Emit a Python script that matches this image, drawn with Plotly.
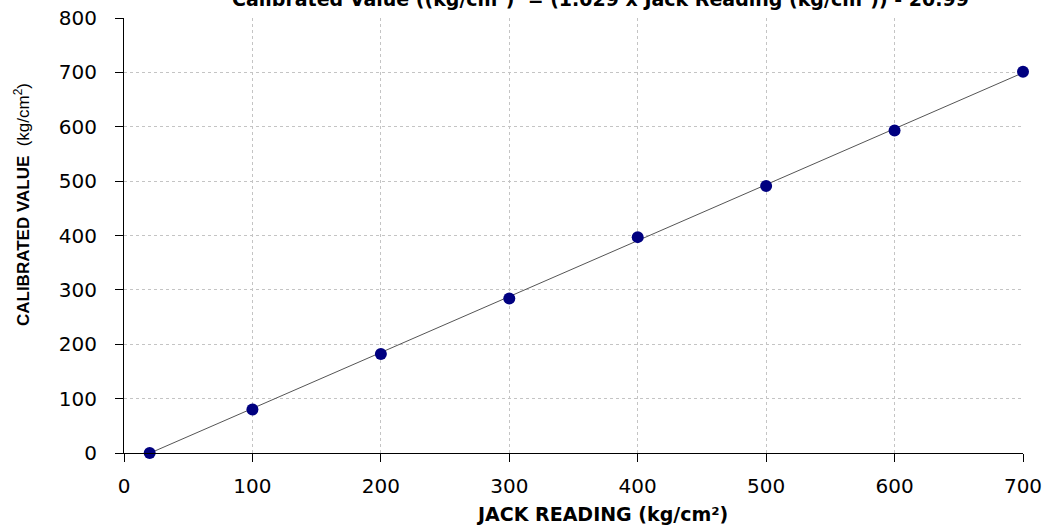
import numpy as np
import plotly.graph_objects as go

jack_reading = [20, 100, 200, 300, 400, 500, 600, 700]
calibrated_value = [0, 80, 182, 284, 397, 491, 593, 701]
x_ticks = [0, 100, 200, 300, 400, 500, 600, 700]
y_ticks = [0, 100, 200, 300, 400, 500, 600, 700, 800]

slope, intercept = 1.029, -20.99
fit_x = [min(jack_reading), max(jack_reading)]
fit_y = [slope * v + intercept for v in fit_x]

fig = go.Figure()
fig.add_trace(go.Scatter(x=fit_x, y=fit_y, mode="lines",
                         line=dict(color="#555555", width=1), hoverinfo="skip",
                         showlegend=False, cliponaxis=False))
fig.add_trace(go.Scatter(x=jack_reading, y=calibrated_value, mode="markers",
                         marker=dict(color="#000080", size=12, symbol="circle"),
                         showlegend=False, cliponaxis=False))

dejavu = "DejaVu Sans, Verdana, sans-serif"
tickfont = dict(family=dejavu, size=20, color="black")
grid = dict(showgrid=True, gridcolor="#c4c4c4", griddash="3px,3px", gridwidth=1)

fig.update_layout(
    width=1047, height=527,
    margin=dict(l=124, r=24, t=18, b=74, autoexpand=False),
    paper_bgcolor="white", plot_bgcolor="white",
    font=dict(family="Liberation Sans, Arial, sans-serif", color="black"),
    xaxis=dict(range=[0, 700], tickvals=x_ticks, tickfont=tickfont,
               showline=True, linecolor="black", linewidth=1,
               ticks="outside", ticklen=8, tickcolor="black",
               ticklabelstandoff=7,
               zeroline=False, **grid),
    yaxis=dict(range=[0, 800], tickvals=y_ticks, tickfont=tickfont,
               showline=True, linecolor="black", linewidth=1,
               ticks="outside", ticklen=8, tickcolor="black",
               ticklabelstandoff=14,
               zeroline=False, **grid),
    annotations=[
        dict(text="<b>Calibrated Value ((kg/cm²)  = (1.029 x Jack Reading (kg/cm²)) - 20.99</b>",
             xref="paper", yref="paper", x=0.5295, y=1, xanchor="center", yanchor="middle",
             yshift=19, showarrow=False,
             font=dict(family=dejavu, size=19, color="black")),
        dict(text="<b>JACK READING (kg/cm²)</b>",
             xref="paper", yref="paper", x=0.5317, y=0, xanchor="center", yanchor="middle",
             yshift=-61, showarrow=False,
             font=dict(family=dejavu, size=19, color="black")),
        dict(text="<b>CALIBRATED VALUE</b>  (kg/cm<sup>2</sup>)",
             xref="paper", yref="paper", x=0, y=0.570, xanchor="center", yanchor="middle",
             xshift=-102, textangle=-90, showarrow=False,
             font=dict(family="Liberation Sans, Arial, sans-serif", size=17, color="black")),
    ],
)

fig.write_html("out.html", config={"displayModeBar": False},
               post_script="document.body.style.margin='0';")
